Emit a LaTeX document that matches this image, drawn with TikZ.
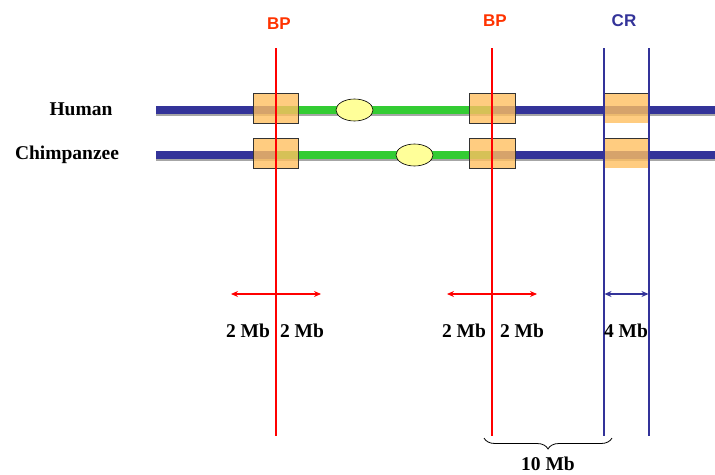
\documentclass[tikz,border=0pt]{standalone}
\usepackage{fontspec}
\setmainfont{Liberation Serif}
\newfontfamily\arialfont{Liberation Sans}
\usetikzlibrary{decorations.pathreplacing,arrows.meta,shapes.geometric}
\definecolor{chrblue}{HTML}{333399}
\definecolor{chrgreen}{HTML}{33CC33}
\definecolor{boxfill}{HTML}{FFBF60}
\definecolor{ellfill}{HTML}{FFFF99}
\definecolor{bpred}{HTML}{FF3300}
\begin{document}
\begin{tikzpicture}[x=1pt,y=-1pt,
  shadowbar/.style={fill=black!35, draw=none},
  bluebar/.style={fill=chrblue, draw=none},
  greenbar/.style={fill=chrgreen, draw=none},
  regionbox/.style={draw=black!80, line width=0.8pt, fill=boxfill, fill opacity=0.8, draw opacity=1},
  centro/.style={ellipse, draw=black, line width=0.6pt, fill=ellfill, minimum width=37pt, minimum height=22pt, inner sep=0pt},
  redline/.style={draw=red, line width=1.4pt},
  blueline/.style={draw=chrblue, line width=1.4pt},
  species/.style={font=\bfseries\fontsize{19.5}{21}\selectfont},
  mb/.style={font=\bfseries\fontsize{19.5}{21}\selectfont},
  toplabel/.style={font=\arialfont\bfseries\fontsize{17}{19}\selectfont},
  redarrow/.style={draw=red, line width=1.1pt, {Stealth[length=7pt,width=6pt]}-{Stealth[length=7pt,width=6pt]}},
  bluearrow/.style={draw=chrblue, line width=1.1pt, {Stealth[length=7pt,width=6pt]}-{Stealth[length=7pt,width=6pt]}}
]
\useasboundingbox (0,0) rectangle (715,474);

% species labels
\node[species] (human) at (81,109) {Human};
\node[species] (chimp) at (67,155) {Chimpanzee};

% chromosome bars: shadows
\fill[shadowbar] (156,108) rectangle (715,116);
\fill[shadowbar] (156,153) rectangle (715,161);
% blue bars
\fill[bluebar] (156,106) rectangle (715,113.5);
\fill[bluebar] (156,151) rectangle (715,158.5);
% green segments between breakpoints
\fill[greenbar] (276,106) rectangle (492,113.5);
\fill[greenbar] (276,151) rectangle (492,158.5);

% centromeres
\node[centro] (cenH) at (354.5,110) {};
\node[centro] (cenC) at (414.5,155) {};

% region boxes
\draw[regionbox] (253,93) rectangle (298,123);
\draw[regionbox] (253,138) rectangle (298,168);
\draw[regionbox] (469.5,93) rectangle (515,123);
\draw[regionbox] (469.5,138) rectangle (515,168);
\fill[boxfill, fill opacity=0.8] (605,93) rectangle (648.5,123);
\fill[boxfill, fill opacity=0.8] (605,138) rectangle (648.5,168);
\draw[black!80, line width=0.8pt] (605,93) -- (648.5,93);
\draw[black!80, line width=0.8pt] (605,138) -- (648.5,138);

% top labels
\node[toplabel, text=bpred] (bp1) at (279,24) {BP};
\node[toplabel, text=bpred] (bp2) at (495,21) {BP};
\node[toplabel, text=chrblue] (cr) at (624,21) {CR};

% vertical lines
\coordinate (r1t) at (276,48); \coordinate (r1b) at (276,436);
\coordinate (r2t) at (492,48); \coordinate (r2b) at (492,436);
\coordinate (b1t) at (604,48); \coordinate (b1b) at (604,436);
\coordinate (b2t) at (649,48); \coordinate (b2b) at (649,436);
\draw[redline] (r1t) -- (r1b);
\draw[redline] (r2t) -- (r2b);
\draw[blueline] (b1t) -- (b1b);
\draw[blueline] (b2t) -- (b2b);

% distance arrows
\coordinate (a1l) at (231,294); \coordinate (a1r) at (321,294);
\coordinate (a2l) at (447,294); \coordinate (a2r) at (537,294);
\coordinate (a3l) at (604.5,294); \coordinate (a3r) at (648.5,294);
\draw[redarrow] (a1l) -- (a1r);
\draw[redarrow] (a2l) -- (a2r);
\draw[bluearrow] (a3l) -- (a3r);

% distance labels
\node[mb] (m1) at (248,331) {2 Mb};
\node[mb] (m2) at (302,331) {2 Mb};
\node[mb] (m3) at (464,331) {2 Mb};
\node[mb] (m4) at (522,331) {2 Mb};
\node[mb] (m5) at (626,331) {4 Mb};

% brace
\coordinate (brl) at (484,438);
\coordinate (brr) at (612,438);
\draw[black, line width=0.8pt, decorate, decoration={brace, mirror, amplitude=11pt}] (brl) -- (brr);
\node[mb] (ten) at (548,464) {10 Mb};
\end{tikzpicture}
\end{document}
